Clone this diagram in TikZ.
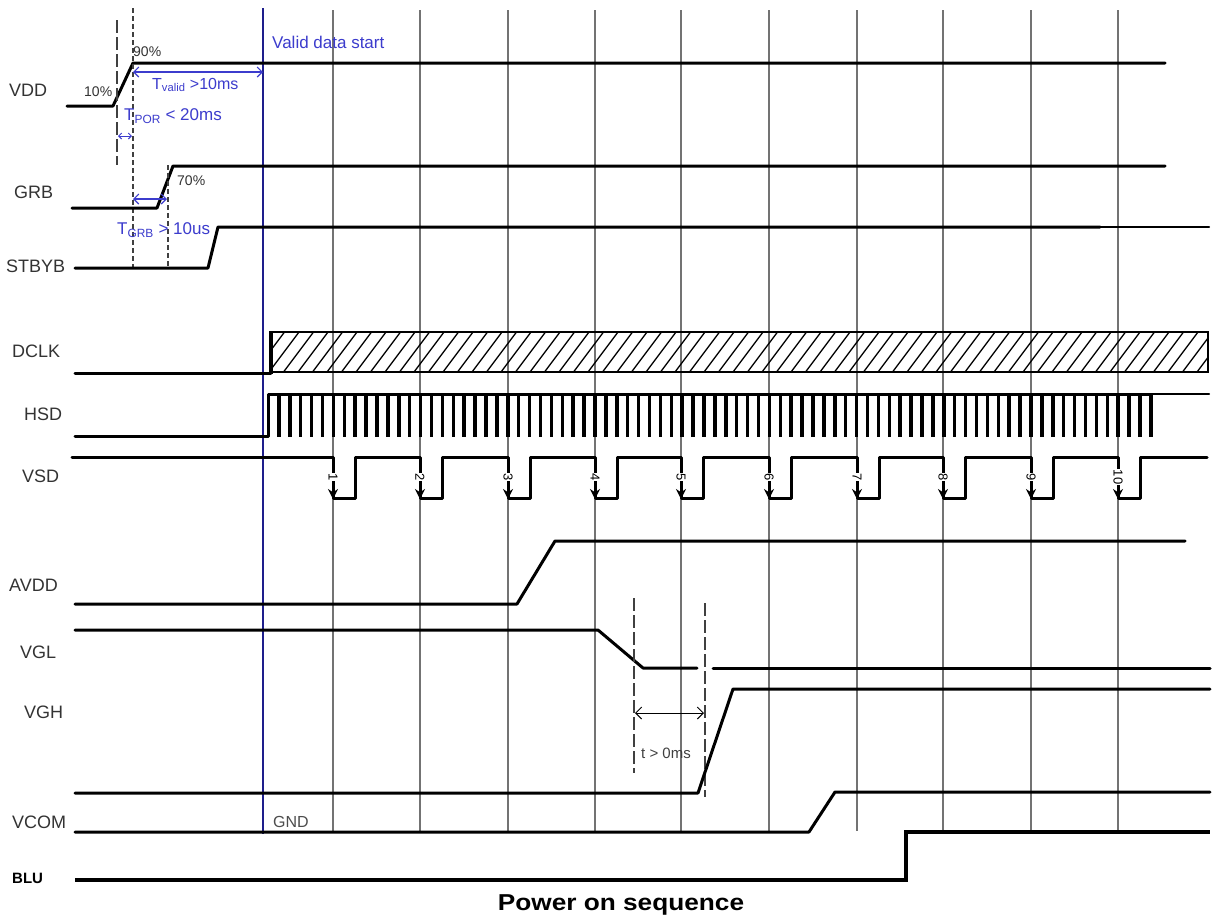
\documentclass[tikz,border=0pt]{standalone}
\usepackage{fontspec}
\setmainfont{Liberation Sans}
\usetikzlibrary{arrows.meta}
\definecolor{navy}{RGB}{30,30,140}
\definecolor{tblue}{RGB}{60,60,205}
\begin{document}
\begin{tikzpicture}[x=1pt,y=-1pt,
  sig/.style={line width=3pt, line join=round, line cap=round},
  thinsig/.style={line width=2pt, line cap=round},
  gridline/.style={black!55, line width=1.2pt},
  lbl/.style={anchor=west, inner sep=0, font=\fontsize{18}{20}\selectfont, text=black!80},
  pct/.style={anchor=west, inner sep=0, font=\fontsize{14}{16}\selectfont, text=black!80},
  bluetxt/.style={anchor=west, inner sep=0, font=\fontsize{17}{19}\selectfont, text=tblue},
  bluearrow/.style={tblue, line width=1.1pt, {Straight Barb[length=5pt]}-{Straight Barb[length=5pt]}},
  longdash/.style={black!75, line width=1.2pt, dash pattern=on 13pt off 4pt},
  shortdash/.style={black!75, line width=1.2pt, dash pattern=on 5pt off 3pt},
  num/.style={inner sep=0.5pt, fill=white, rotate=-90, font=\fontsize{13}{14}\selectfont}]
\useasboundingbox (0,0) rectangle (1219,922);
\fill[white] (0,0) rectangle (1219,922);

% grid lines
\foreach \x in {333,420,508,595,681,769,857,943,1031,1118}
  \draw[gridline] (\x,10) -- (\x,831);
% valid data start line
\draw[navy, line width=1.3pt] (263,8) -- (263,834);
\node[bluetxt] (valid) at (272,42) {Valid data start};

% labels
\node[lbl] (lvdd) at (9,90) {VDD};
\node[lbl] (lgrb) at (14,192) {GRB};
\node[lbl] (lstb) at (6,266) {STBYB};
\node[lbl] (ldclk) at (12,351) {DCLK};
\node[lbl] (lhsd) at (24,414) {HSD};
\node[lbl] (lvsd) at (22,476) {VSD};
\node[lbl] (lavdd) at (9,585) {AVDD};
\node[lbl] (lvgl) at (20,652) {VGL};
\node[lbl] (lvgh) at (24,712) {VGH};
\node[lbl] (lvcom) at (12,822) {VCOM};
\node[lbl, font=\fontsize{15}{17}\selectfont\bfseries, text=black] (lblu) at (12,878) {BLU};

% VDD
\draw[sig] (67,106) -- (113,106) -- (133,63) -- (1165,63);
\draw[longdash] (117,20) -- (117,165);
\draw[shortdash] (133,8) -- (133,270);
\node[pct] (p90) at (133,52) {90\%};
\node[pct] (p10) at (84,92) {10\%};
\draw[bluearrow] (133,72) -- (263,72);
\node[bluetxt, font=\fontsize{16}{18}\selectfont] (tvalid) at (152,85) {T\textsubscript{valid} >10ms};
\node[bluetxt] (tpor) at (124,116) {T\textsubscript{POR} < 20ms};
\draw[tblue, line width=1pt, {Straight Barb[length=3pt]}-{Straight Barb[length=3pt]}] (118,136) -- (132,136);

% GRB
\draw[sig] (72,208) -- (157,208) -- (173,166) -- (1165,166);
\draw[shortdash] (168,165) -- (168,268);
\node[pct] (p70) at (177,181) {70\%};
\draw[bluearrow] (133,199) -- (167,199);
\node[bluetxt] (tgrb) at (117,230) {T\textsubscript{GRB} > 10us};

% STBYB
\draw[sig] (75,268) -- (208,268) -- (218,227) -- (1100,227);
\draw[thinsig] (1100,227) -- (1209,227);

% DCLK
\draw[sig] (75,373) -- (271,373);
\begin{scope}
  \clip (271,332) rectangle (1208,372);
  \foreach \x in {240,254.5,...,1215}
    \draw[line width=1.3pt] (\x,372) -- (\x+30,332);
\end{scope}
\draw[line width=2.5pt] (271,332) rectangle (1208,372);
\draw[line width=4pt] (271,374) -- (271,331);

% HSD
\draw[sig] (75,436) -- (268,436) -- (268,394) -- (1151,394);
\draw[thinsig] (1151,394) -- (1209,394);
\foreach \i in {1,...,81}
  \draw[line width=3.5pt] ({268+\i*10.9},394) -- ({268+\i*10.9},437);

% VSD
\draw[sig] (72,457)
  \foreach \x in {333,420,508,595,681,769,857,943,1031,1118} {
    -- (\x,457) -- (\x,498) -- ({\x+22},498) -- ({\x+22},457) }
  -- (1207,457);
\foreach \x/\n in {333/1,420/2,508/3,595/4,681/5,769/6,857/7,943/8,1031/9,1118/10} {
  \draw[line width=1.5pt, -{Stealth[length=10pt,width=10pt]}] (\x,485) -- (\x,499);
  \node[num] (n\n) at (\x,477) {\n};
}

% AVDD
\draw[sig] (75,604) -- (517,604) -- (555,541) -- (1185,541);

% VGL
\draw[sig] (75,630) -- (598,630) -- (643,668) -- (697,668);
\draw[sig] (713,668) -- (1210,668);
\draw[longdash] (634,598) -- (634,773);
\draw[longdash] (705,603) -- (705,797);
\draw[black, line width=1pt, {Straight Barb[length=6pt]}-{Straight Barb[length=6pt]}] (635,713) -- (704,713);
\node[anchor=west, inner sep=0, font=\fontsize{15}{17}\selectfont, text=black!75] (tgt) at (641,753) {t > 0ms};

% VGH
\draw[sig] (75,793) -- (698,793) -- (733,689) -- (1210,689);

% VCOM
\draw[sig] (75,832) -- (809,832) -- (835,792) -- (1210,792);
\node[anchor=west, inner sep=0, font=\fontsize{16}{18}\selectfont, text=black!70] (gnd) at (273,822) {GND};

% BLU
\draw[line width=3.5pt, line join=miter] (75,880) -- (906,880) -- (906,832) -- (1210,832);

% title
\node[font=\fontsize{23}{26}\selectfont\bfseries] (title) at (621,905) {\scalebox{1.14}[1]{Power on sequence}};
\end{tikzpicture}
\end{document}
